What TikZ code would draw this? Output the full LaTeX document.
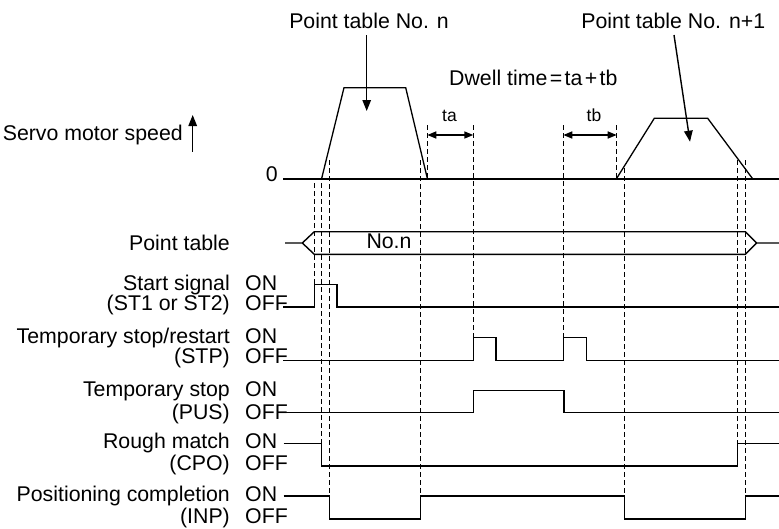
\documentclass[tikz,border=0pt]{standalone}
\usepackage{fontspec}
\setmainfont{Liberation Sans}
\usetikzlibrary{arrows.meta}
\begin{document}
\begin{tikzpicture}[x=1pt,y=-1pt,
  lbl/.style={inner sep=0pt,font=\fontsize{21.3}{24}\selectfont},
  small/.style={inner sep=0pt,font=\fontsize{17.5}{20}\selectfont},
  sig/.style={line width=1.4pt,line join=miter},
  prof/.style={line width=1.3pt,line join=miter},
  axis/.style={line width=2pt},
  dsh/.style={line width=0.9pt,dash pattern=on 5pt off 3pt},
  ptr/.style={line width=1.4pt,-{Triangle[length=11pt,width=8.5pt]}},
  dimarrow/.style={line width=1.6pt,{Triangle[length=9pt,width=7pt]}-{Triangle[length=9pt,width=7pt]}}]
\useasboundingbox (0,0) rectangle (779,528);

% ---- top labels ----
\node[lbl,anchor=base] (ptn) at (369,28.3) {Point table No. n};
\node[lbl,anchor=base] (ptn1) at (673.3,28.3) {Point table No. n+1};
\node[lbl,anchor=base] (dwell) at (533.3,85) {Dwell time\hspace{2.4pt}=\hspace{2.4pt}ta\hspace{2.4pt}+\hspace{2.4pt}tb};
\node[small,anchor=base] (ta) at (449.5,121.7) {ta};
\node[small,anchor=base] (tb) at (594,121.7) {tb};
\node[lbl,anchor=base east] (speed) at (183,140) {Servo motor speed};
\node[lbl,anchor=base] (zero) at (271.7,181.7) {0};

% ---- speed axis ----
\coordinate (z0) at (283.3,178.5);
\coordinate (z1) at (779,178.5);
\draw[axis] (z0) -- (z1);
\coordinate (sp0) at (192.7,151.7);
\coordinate (sp1) at (192.7,115);
\draw[ptr] (sp0) -- (sp1);

% ---- speed profiles ----
\draw[prof] (321.7,178.3) -- (344,87.7) -- (405.7,87.7) -- (427.3,178.3);
\draw[prof] (616.7,178.3) -- (654.3,118.3) -- (707.7,118.3) -- (752.3,178.3);

% ---- pointer arrows ----
\coordinate (p1s) at (366.7,35);
\coordinate (p1e) at (366.7,111);
\draw[ptr] (p1s) -- (p1e);
\coordinate (p2s) at (674,35);
\coordinate (p2e) at (690,141.7);
\draw[ptr] (p2s) -- (p2e);

% ---- dwell time arrows ----
\coordinate (ta0) at (427.3,135);
\coordinate (ta1) at (473.3,135);
\draw[dimarrow] (ta0) -- (ta1);
\coordinate (tb0) at (563.3,135);
\coordinate (tb1) at (616.7,135);
\draw[dimarrow] (tb0) -- (tb1);

% ---- dashed guide lines ----
\draw[dsh] (314.3,183) -- (314.3,284.5);
\draw[dsh] (321.7,183) -- (321.7,443.3);
\draw[dsh] (329.3,160) -- (329.3,496);
\draw[dsh] (420.7,160) -- (420.7,496);
\draw[dsh] (427.3,125) -- (427.3,178);
\draw[dsh] (473.3,125) -- (473.3,337.7);
\draw[dsh] (563.3,125) -- (563.3,337.7);
\draw[dsh] (616.7,125) -- (616.7,178);
\draw[dsh] (624.3,168) -- (624.3,496);
\draw[dsh] (737.4,160) -- (737.4,443.3);
\draw[dsh] (745.3,160) -- (745.3,496);

% ---- left labels ----
\node[lbl,anchor=base east] (lpt) at (230,250) {Point table};
\node[lbl,anchor=base east] (lst) at (230,290) {Start signal};
\node[lbl,anchor=base east] (lst2) at (230,310) {(ST1 or ST2)};
\node[lbl,anchor=base east] (lstp) at (230,343.3) {Temporary stop/restart};
\node[lbl,anchor=base east] (lstp2) at (230,363.3) {(STP)};
\node[lbl,anchor=base east] (lpus) at (230,396.7) {Temporary stop};
\node[lbl,anchor=base east] (lpus2) at (230,419.3) {(PUS)};
\node[lbl,anchor=base east] (lcpo) at (230,448.3) {Rough match};
\node[lbl,anchor=base east] (lcpo2) at (230,470) {(CPO)};
\node[lbl,anchor=base east] (linp) at (230,501.7) {Positioning completion};
\node[lbl,anchor=base east] (linp2) at (230,523.3) {(INP)};

\node[lbl,anchor=base west] (on1) at (245,290) {ON};
\node[lbl,anchor=base west] (off1) at (245,310) {OFF};
\node[lbl,anchor=base west] (on2) at (245,343.3) {ON};
\node[lbl,anchor=base west] (off2) at (245,363.3) {OFF};
\node[lbl,anchor=base west] (on3) at (245,396.7) {ON};
\node[lbl,anchor=base west] (off3) at (245,419.3) {OFF};
\node[lbl,anchor=base west] (on4) at (245,448.3) {ON};
\node[lbl,anchor=base west] (off4) at (245,470) {OFF};
\node[lbl,anchor=base west] (on5) at (245,501.7) {ON};
\node[lbl,anchor=base west] (off5) at (245,523.3) {OFF};

% ---- point table bus ----
\node[lbl,anchor=base] (non) at (389,248.3) {No.n};
\draw[sig] (285,243) -- (302.3,243) -- (314.3,231.7) -- (745.3,231.7) -- (756.7,243) -- (779,243);
\draw[sig] (302.3,243) -- (314.3,254.3) -- (745.3,254.3) -- (756.7,243);

% ---- signals ----
\draw[sig] (283,307) -- (314.3,307) -- (314.3,284.5) -- (337,284.5) -- (337,307) -- (779,307);
\draw[sig] (283,360.7) -- (473.3,360.7) -- (473.3,337.7) -- (496,337.7) -- (496,360.7)
  -- (563.3,360.7) -- (563.3,337.7) -- (586.7,337.7) -- (586.7,360.7) -- (779,360.7);
\draw[sig] (283,412.7) -- (473.3,412.7) -- (473.3,390.7) -- (564,390.7) -- (564,412.7) -- (779,412.7);
\draw[sig] (283.5,443.3) -- (321.7,443.3) -- (321.7,466) -- (737.4,466) -- (737.4,443.3) -- (779,443.3);
\draw[sig] (283.5,496) -- (329.3,496) -- (329.3,519) -- (420.7,519) -- (420.7,496)
  -- (624.3,496) -- (624.3,519) -- (745.3,519) -- (745.3,496) -- (779,496);
\end{tikzpicture}
\end{document}
